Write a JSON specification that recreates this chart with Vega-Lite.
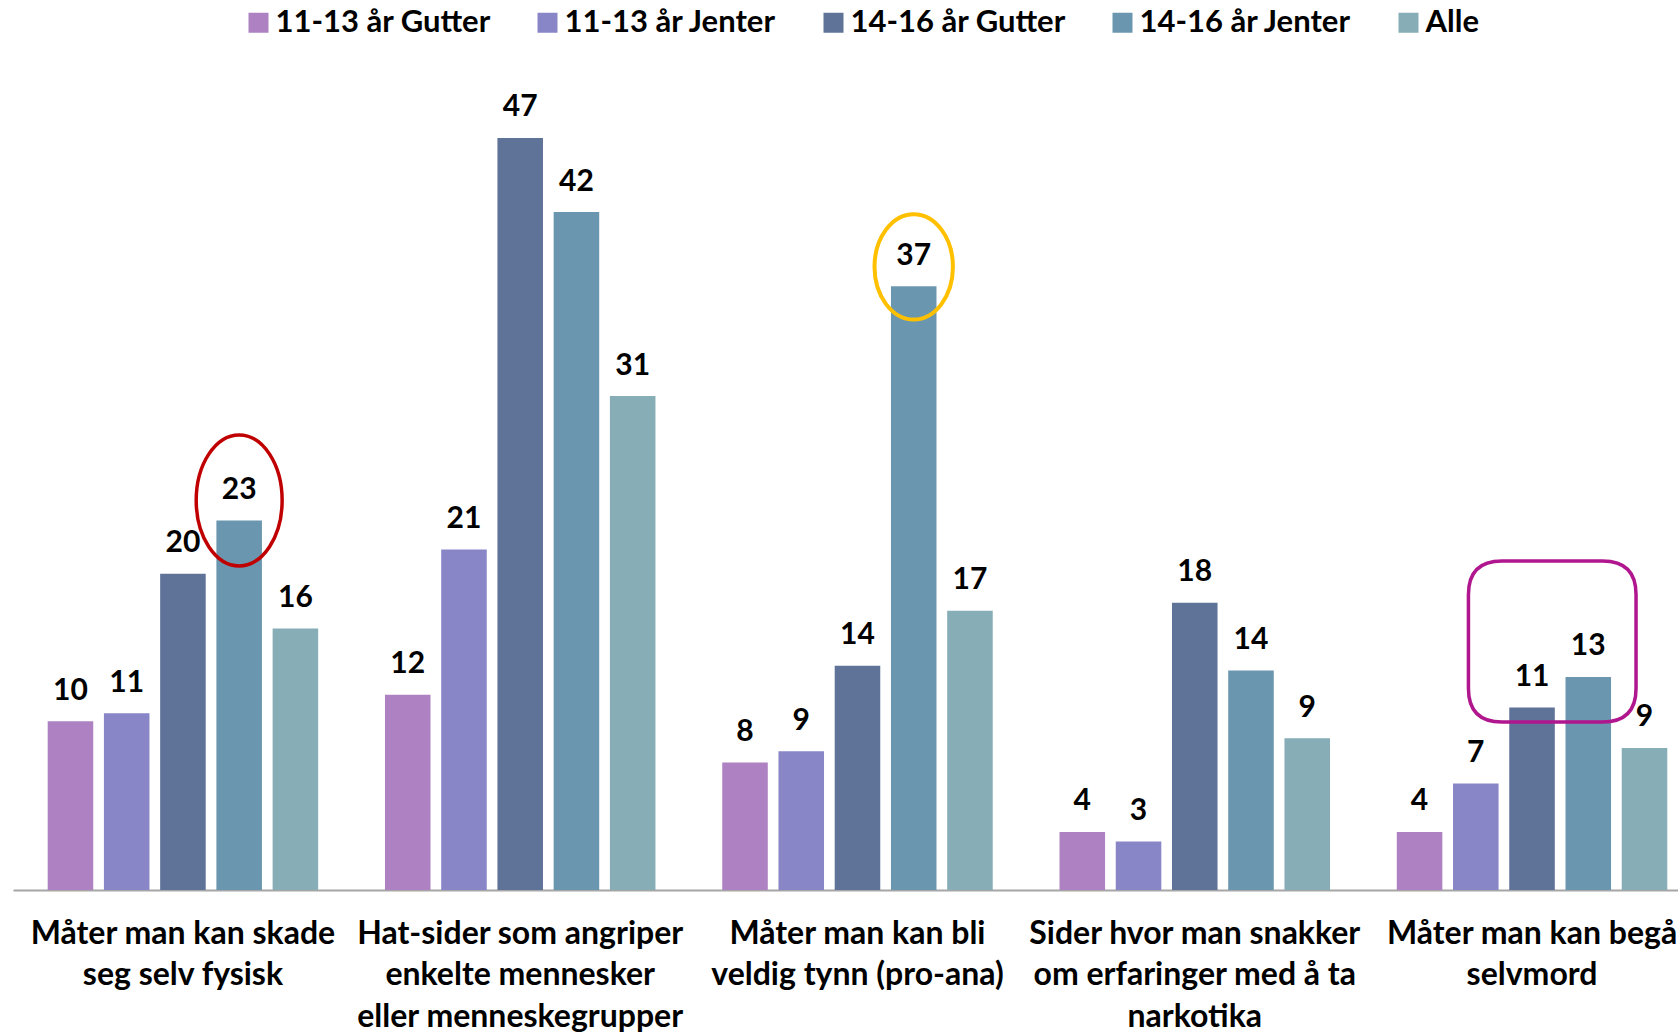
{
  "$schema": "https://vega.github.io/schema/vega-lite/v6.json",
  "autosize": {"type": "none"},
  "width": 1665,
  "height": 807,
  "padding": {"left": 13, "top": 83, "right": 0, "bottom": 142},
  "background": "#ffffff",
  "config": {"view": {"stroke": null}, "font": "Lato"},
  "data": {
    "values": [
      {"category": "Måter man kan skade seg selv fysisk", "series": "11-13 år Gutter", "value": 10.45},
      {"category": "Måter man kan skade seg selv fysisk", "series": "11-13 år Jenter", "value": 10.95},
      {"category": "Måter man kan skade seg selv fysisk", "series": "14-16 år Gutter", "value": 19.6},
      {"category": "Måter man kan skade seg selv fysisk", "series": "14-16 år Jenter", "value": 22.9},
      {"category": "Måter man kan skade seg selv fysisk", "series": "Alle", "value": 16.2},
      {"category": "Hat-sider som angriper enkelte mennesker eller menneskegrupper", "series": "11-13 år Gutter", "value": 12.1},
      {"category": "Hat-sider som angriper enkelte mennesker eller menneskegrupper", "series": "11-13 år Jenter", "value": 21.1},
      {"category": "Hat-sider som angriper enkelte mennesker eller menneskegrupper", "series": "14-16 år Gutter", "value": 46.6},
      {"category": "Hat-sider som angriper enkelte mennesker eller menneskegrupper", "series": "14-16 år Jenter", "value": 42.0},
      {"category": "Hat-sider som angriper enkelte mennesker eller menneskegrupper", "series": "Alle", "value": 30.6},
      {"category": "Måter man kan bli veldig tynn (pro-ana)", "series": "11-13 år Gutter", "value": 7.9},
      {"category": "Måter man kan bli veldig tynn (pro-ana)", "series": "11-13 år Jenter", "value": 8.6},
      {"category": "Måter man kan bli veldig tynn (pro-ana)", "series": "14-16 år Gutter", "value": 13.9},
      {"category": "Måter man kan bli veldig tynn (pro-ana)", "series": "14-16 år Jenter", "value": 37.4},
      {"category": "Måter man kan bli veldig tynn (pro-ana)", "series": "Alle", "value": 17.3},
      {"category": "Sider hvor man snakker om erfaringer med å ta narkotika", "series": "11-13 år Gutter", "value": 3.6},
      {"category": "Sider hvor man snakker om erfaringer med å ta narkotika", "series": "11-13 år Jenter", "value": 3.0},
      {"category": "Sider hvor man snakker om erfaringer med å ta narkotika", "series": "14-16 år Gutter", "value": 17.8},
      {"category": "Sider hvor man snakker om erfaringer med å ta narkotika", "series": "14-16 år Jenter", "value": 13.6},
      {"category": "Sider hvor man snakker om erfaringer med å ta narkotika", "series": "Alle", "value": 9.4},
      {"category": "Måter man kan begå selvmord", "series": "11-13 år Gutter", "value": 3.6},
      {"category": "Måter man kan begå selvmord", "series": "11-13 år Jenter", "value": 6.6},
      {"category": "Måter man kan begå selvmord", "series": "14-16 år Gutter", "value": 11.3},
      {"category": "Måter man kan begå selvmord", "series": "14-16 år Jenter", "value": 13.2},
      {"category": "Måter man kan begå selvmord", "series": "Alle", "value": 8.8}
    ]
  },
  "encoding": {
    "x": {
      "field": "category",
      "type": "nominal",
      "sort": null,
      "scale": {"paddingInner": 0.198, "paddingOuter": 0.0673, "align": 0.764},
      "axis": {
        "title": null,
        "orient": "bottom",
        "domainColor": "#A6A6A6",
        "domainWidth": 2,
        "ticks": false,
        "tickSize": 0,
        "labelPadding": 28,
        "labelAngle": 0,
        "labelFont": "Lato",
        "labelFontSize": 32,
        "labelFontWeight": "bold",
        "labelColor": "#000000",
        "labelLineHeight": 41.5,
        "labelLimit": 0,
        "labelOverlap": false,
        "labelBound": false,
        "grid": false,
        "labelExpr": "{'Måter man kan skade seg selv fysisk': ['Måter man kan skade', 'seg selv fysisk'], 'Hat-sider som angriper enkelte mennesker eller menneskegrupper': ['Hat-sider som angriper', 'enkelte mennesker', 'eller menneskegrupper'], 'Måter man kan bli veldig tynn (pro-ana)': ['Måter man kan bli', 'veldig tynn (pro-ana)'], 'Sider hvor man snakker om erfaringer med å ta narkotika': ['Sider hvor man snakker', 'om erfaringer med å ta', 'narkotika'], 'Måter man kan begå selvmord': ['Måter man kan begå', 'selvmord']}[datum.value]"
      }
    },
    "xOffset": {
      "field": "series",
      "type": "nominal",
      "scale": {"domain": ["11-13 år Gutter", "11-13 år Jenter", "14-16 år Gutter", "14-16 år Jenter", "Alle"], "paddingInner": 0.19, "paddingOuter": 0}
    },
    "y": {
      "field": "value",
      "type": "quantitative",
      "scale": {"domain": [0, 50], "nice": false, "zero": true},
      "axis": null
    }
  },
  "layer": [
    {
      "mark": {"type": "bar"},
      "encoding": {
        "color": {
          "field": "series",
          "type": "nominal",
          "scale": {
            "domain": ["11-13 år Gutter", "11-13 år Jenter", "14-16 år Gutter", "14-16 år Jenter", "Alle"],
            "range": ["#AE82C2", "#8886C6", "#5F7399", "#6A97AF", "#87ADB6"]
          },
          "legend": {
            "orient": "none",
            "legendX": 230,
            "legendY": -76,
            "direction": "horizontal",
            "title": null,
            "symbolType": "square",
            "symbolSize": 400,
            "symbolStrokeWidth": 0,
            "symbolOpacity": 1,
            "labelFont": "Lato",
            "labelFontSize": 31,
            "labelFontWeight": "bold",
            "labelColor": "#000000",
            "labelOffset": 1.5,
            "labelLimit": 0,
            "columnPadding": 41
          }
        }
      }
    },
    {
      "mark": {"type": "text", "baseline": "alphabetic", "align": "center", "dy": -21.5, "font": "Lato", "fontSize": 30, "fontWeight": "bold", "color": "#000000"},
      "encoding": {"text": {"field": "value", "type": "quantitative", "format": ".0f"}}
    },
    {
      "transform": [{"filter": "datum.category == 'Måter man kan skade seg selv fysisk' && datum.series == '14-16 år Jenter'"}],
      "mark": {
        "type": "point",
        "shape": "M 0 -1.305 C 0.362 -1.305 0.656 -0.857 0.656 -0.305 C 0.656 0.247 0.362 0.695 0 0.695 C -0.362 0.695 -0.656 0.247 -0.656 -0.305 C -0.656 -0.857 -0.362 -1.305 0 -1.305 Z",
        "size": 17161,
        "filled": false,
        "color": "#C00000",
        "stroke": "#C00000",
        "strokeWidth": 3.5,
        "opacity": 1
      }
    },
    {
      "transform": [{"filter": "datum.category == 'Måter man kan bli veldig tynn (pro-ana)' && datum.series == '14-16 år Jenter'"}],
      "mark": {
        "type": "point",
        "shape": "M 0 -1.37 C 0.411 -1.37 0.744 -0.922 0.744 -0.37 C 0.744 0.182 0.411 0.63 0 0.63 C -0.411 0.63 -0.744 0.182 -0.744 -0.37 C -0.744 -0.922 -0.411 -1.37 0 -1.37 Z",
        "size": 11109,
        "filled": false,
        "color": "#FFC000",
        "stroke": "#FFC000",
        "strokeWidth": 4,
        "opacity": 1
      }
    },
    {
      "transform": [{"filter": "datum.category == 'Måter man kan begå selvmord' && datum.series == '14-16 år Jenter'"}],
      "mark": {
        "type": "point",
        "shape": "M -1.03 -1.385 L 0.17 -1.385 Q 0.57 -1.385 0.57 -0.985 L 0.57 0.137 Q 0.57 0.537 0.17 0.537 L -1.03 0.537 Q -1.43 0.537 -1.43 0.137 L -1.43 -0.985 Q -1.43 -1.385 -1.03 -1.385 Z",
        "size": 28090,
        "filled": false,
        "color": "#B0168E",
        "stroke": "#B0168E",
        "strokeWidth": 3.5,
        "opacity": 1
      }
    }
  ]
}
